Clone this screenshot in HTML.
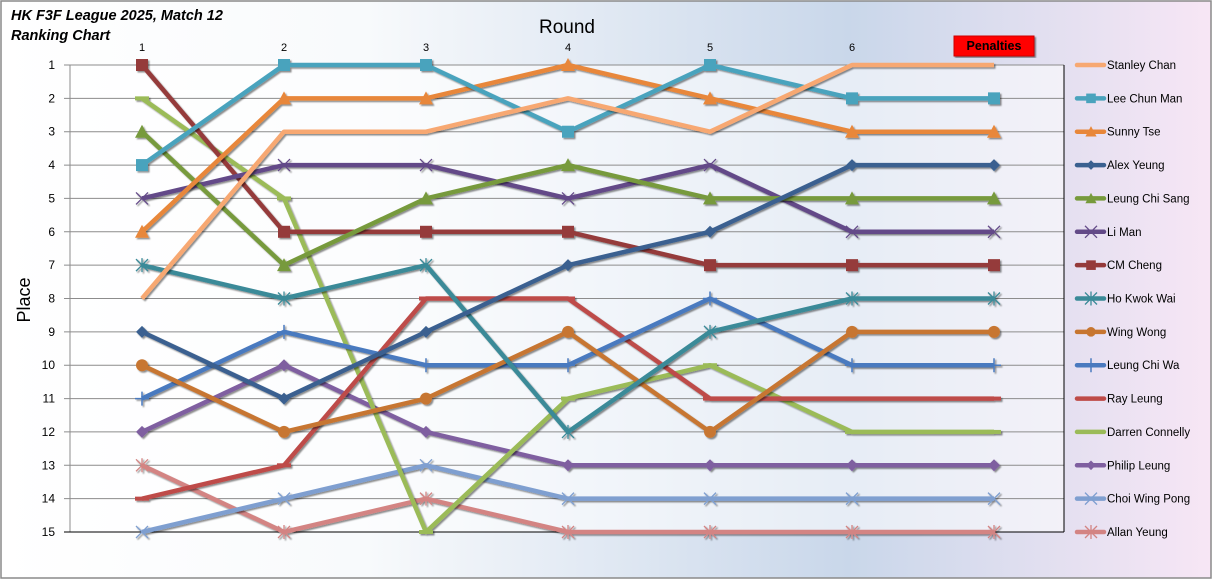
<!DOCTYPE html><html><head><style>body{margin:0}svg text{font-family:"Liberation Sans",sans-serif}</style></head><body>
<svg width="1212" height="579" xmlns="http://www.w3.org/2000/svg">
<defs><linearGradient id="bg" x1="0" x2="1" y1="0" y2="0"><stop offset="0" stop-color="#ffffff"/><stop offset="0.3" stop-color="#f8fafc"/><stop offset="0.7" stop-color="#c9d7ea"/><stop offset="1" stop-color="#f7e6f5"/></linearGradient>
<filter id="sh"><feDropShadow dx="1.5" dy="1.5" stdDeviation="0.8" flood-opacity="0.45"/></filter></defs>
<rect x="1" y="1" width="1210" height="577" fill="url(#bg)" stroke="#8a8a8a" stroke-width="1.5"/>
<rect x="70" y="65" width="994" height="467" fill="#ffffff" fill-opacity="0.55"/>
<text x="11" y="20" font-size="14.5" font-weight="bold" font-style="italic">HK F3F League 2025, Match 12</text>
<text x="11" y="40" font-size="14.5" font-weight="bold" font-style="italic">Ranking Chart</text>
<text x="567" y="33" font-size="19" text-anchor="middle">Round</text>
<text x="30" y="300" font-size="18" text-anchor="middle" transform="rotate(-90 30 300)">Place</text>
<rect x="954" y="36" width="80" height="20" fill="#ff0000" stroke="#c00" filter="url(#sh)"/>
<text x="994" y="50" font-size="12.5" font-weight="bold" text-anchor="middle">Penalties</text>
<g id="grid" stroke="#8c8c8c" stroke-width="1"></g>
<line x1="70" y1="65" x2="70" y2="532" stroke="#8c8c8c"/>
<line x1="1064" y1="65" x2="1064" y2="532" stroke="#000"/>
<line x1="64" y1="532" x2="1064" y2="532" stroke="#000"/>
<g id="ylab" font-size="12" text-anchor="end"></g>
<g id="xlab" font-size="11" text-anchor="middle"></g>
<g id="series"></g>
<g id="legend" font-size="11.5"></g>
</svg>
<script>
const NS="http://www.w3.org/2000/svg";
function el(t,a,p){const e=document.createElementNS(NS,t);for(const k in a)e.setAttribute(k,a[k]);p.appendChild(e);return e;}
const Y=p=>65+(p-1)*467/14, X=i=>142+i*142;
const g=document.getElementById('grid'),yl=document.getElementById('ylab'),xl=document.getElementById('xlab');
for(let p=1;p<=15;p++){if(p<15)el('line',{x1:64,x2:1064,y1:Y(p),y2:Y(p)},g);el('text',{x:55,y:Y(p)+4},yl).textContent=p;}
for(let i=0;i<6;i++)el('text',{x:X(i),y:51},xl).textContent=i+1;
const S=[
["Stanley Chan","#f7a872","none",[8,3,3,2,3,1,1]],
["Lee Chun Man","#4aa3bd","sq",[4,1,1,3,1,2,2]],
["Sunny Tse","#e8873a","tri",[6,2,2,1,2,3,3]],
["Alex Yeung","#3a6090","dia",[9,11,9,7,6,4,4]],
["Leung Chi Sang","#779a3c","tri",[3,7,5,4,5,5,5]],
["Li Man","#634a88","x",[5,4,4,5,4,6,6]],
["CM Cheng","#953a3a","sq",[1,6,6,6,7,7,7]],
["Ho Kwok Wai","#3a8a98","star",[7,8,7,12,9,8,8]],
["Wing Wong","#c77630","circ",[10,12,11,9,12,9,9]],
["Leung Chi Wa","#4a7abf","plus",[11,9,10,10,8,10,10]],
["Ray Leung","#be4b48","dash",[14,13,8,8,11,11,11]],
["Darren Connelly","#9bbb59","dash",[2,5,15,11,10,12,12]],
["Philip Leung","#7f5fa0","dia",[12,10,12,13,13,13,13]],
["Choi Wing Pong","#7f9fd0","x",[15,14,13,14,14,14,14]],
["Allan Yeung","#d38483","star",[13,15,14,15,15,15,15]]];
function mk(m,x,y,c,p,s){s=s||1;
 if(m=="sq")el('rect',{x:x-6*s,y:y-6*s,width:12*s,height:12*s,fill:c},p);
 else if(m=="tri")el('polygon',{points:`${x},${y-7*s} ${x+7*s},${y+6*s} ${x-7*s},${y+6*s}`,fill:c},p);
 else if(m=="dia")el('polygon',{points:`${x},${y-6*s} ${x+6*s},${y} ${x},${y+6*s} ${x-6*s},${y}`,fill:c},p);
 else if(m=="circ")el('circle',{cx:x,cy:y,r:6*s,fill:c},p);
 else if(m=="x"){el('path',{d:`M${x-6} ${y-6}L${x+6} ${y+6}M${x+6} ${y-6}L${x-6} ${y+6}`,stroke:c,'stroke-width':1.3},p);}
 else if(m=="star"){el('path',{d:`M${x-6} ${y-6}L${x+6} ${y+6}M${x+6} ${y-6}L${x-6} ${y+6}M${x} ${y-7}V${y+7}`,stroke:c,'stroke-width':1.3},p);}
 else if(m=="plus"){el('path',{d:`M${x-7} ${y}H${x+7}M${x} ${y-7}V${y+7}`,stroke:c,'stroke-width':1.5},p);}
 else if(m=="dash"){el('path',{d:`M${x-7} ${y}H${x+7}`,stroke:c,'stroke-width':4},p);}
}
const sr=document.getElementById('series'),lg=document.getElementById('legend');
S.slice().reverse().forEach(([n,c,m,d])=>{
 const gg=el('g',{filter:'url(#sh)'},sr);
 el('polyline',{points:d.map((p,i)=>X(i)+','+Y(p)).join(' '),fill:'none',stroke:c,'stroke-width':4.5,'stroke-linejoin':'round'},gg);
 d.forEach((p,i)=>mk(m,X(i),Y(p),c,gg));
});
S.forEach(([n,c,m,d],k)=>{const y=Y(k+1);
 el('line',{x1:1077,x2:1104,y1:y,y2:y,stroke:c,'stroke-width':4.5,'stroke-linecap':'round'},lg);
 if(m!="none"&&m!="dash")mk(m,1091,y,c,lg,0.8);
 el('text',{x:1107,y:y+4},lg).textContent=n;});
</script>
</body></html>
